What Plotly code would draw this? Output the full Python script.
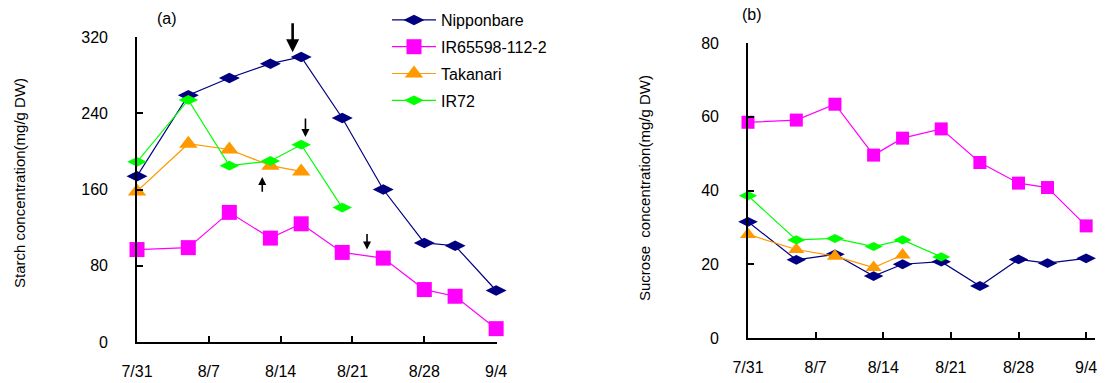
import plotly.graph_objects as go

# ---------------- data ----------------
dates = ["2000-07-31", "2000-08-05", "2000-08-09", "2000-08-13", "2000-08-16",
         "2000-08-20", "2000-08-24", "2000-08-28", "2000-08-31", "2000-09-04"]

series_names = ["Nipponbare", "IR65598-112-2", "Takanari", "IR72"]

starch_nipponbare = [174, 259, 277, 292, 299, 235, 160, 104, 101, 54]
starch_ir65598 = [97, 99, 136, 109, 124, 94, 88, 55, 48, 14]
starch_takanari = [158, 208, 202, 185, 179]
starch_ir72 = [189, 254, 185, 190, 207, 141]

sucrose_nipponbare = [31.5, 21.2, 22.7, 16.8, 20.0, 20.7, 14.1, 21.3, 20.3, 21.6]
sucrose_ir65598 = [58.5, 59.1, 63.4, 49.6, 54.2, 56.7, 47.6, 42.0, 40.8, 30.4]
sucrose_takanari = [28.1, 24.0, 22.2, 19.1, 22.5]
sucrose_ir72 = [38.6, 26.6, 27.0, 24.8, 26.6, 22.0]

tick_dates = ["2000-07-31", "2000-08-07", "2000-08-14", "2000-08-21", "2000-08-28", "2000-09-04"]
tick_labels = ["7/31", "8/7", "8/14", "8/21", "8/28", "9/4"]

starch_ticks = [0, 80, 160, 240, 320]
sucrose_ticks = [0, 20, 40, 60, 80]

# arrows in panel (a): date, head value, tail value, width
arrow_dates = ["2000-08-15 04:00", "2000-08-16 10:00", "2000-08-12 05:00", "2000-08-22 10:00"]
arrow_head = [304, 215, 173, 97]
arrow_tail = [336, 236, 156, 115]
arrow_width = [2.6, 1.6, 1.6, 1.6]

# ---------------- styles ----------------
colors = ["#000080", "#FF00FF", "#FF9900", "#00FF00"]
symbols = ["diamond-wide", "square", "triangle-up", "diamond-wide"]
sizes_a = [15, 15, 16, 14]
sizes_b = [14, 13, 14, 13]

FONT = "Liberation Sans, Arial, sans-serif"

fig = go.Figure()

starch = [starch_nipponbare, starch_ir65598, starch_takanari, starch_ir72]
sucrose = [sucrose_nipponbare, sucrose_ir65598, sucrose_takanari, sucrose_ir72]

for i, name in enumerate(series_names):
    fig.add_trace(go.Scatter(
        x=dates[:len(starch[i])], y=starch[i], name=name, mode="lines+markers",
        line=dict(color=colors[i], width=1.2),
        marker=dict(symbol=symbols[i], size=sizes_a[i], color=colors[i]),
        xaxis="x", yaxis="y", cliponaxis=False, legendgroup=name, showlegend=True,
    ))
for i, name in enumerate(series_names):
    fig.add_trace(go.Scatter(
        x=dates[:len(sucrose[i])], y=sucrose[i], name=name, mode="lines+markers",
        line=dict(color=colors[i], width=1.2),
        marker=dict(symbol=symbols[i], size=sizes_b[i], color=colors[i]),
        xaxis="x2", yaxis="y2", cliponaxis=False, legendgroup=name, showlegend=False,
    ))

axis_common = dict(showgrid=False, zeroline=False, showline=True, linecolor="black",
                   linewidth=1.6, ticks="inside", ticklen=6, tickcolor="black", tickwidth=1.6,
                   automargin=False,
                   tickfont=dict(family=FONT, size=16, color="black"))

fig.update_layout(
    width=1107, height=383,
    margin=dict(l=0, r=0, t=0, b=0, autoexpand=False),
    paper_bgcolor="white", plot_bgcolor="white",
    font=dict(family=FONT, color="black"),
    xaxis=dict(domain=[137 / 1107, 497 / 1107], type="date",
               range=["2000-07-31", "2000-09-04 02:00"],
               tickvals=tick_dates, ticktext=tick_labels, ticklabelstandoff=14,
               anchor="y", **axis_common),
    yaxis=dict(domain=[41 / 383, 346 / 383], range=[0, 320], tickvals=starch_ticks,
               ticklabelstandoff=24, anchor="x", **axis_common),
    xaxis2=dict(domain=[748 / 1107, 1095 / 1107], type="date",
                range=["2000-07-31", "2000-09-04 22:00"],
                tickvals=tick_dates, ticktext=tick_labels, ticklabelstandoff=14,
                anchor="y2", **axis_common),
    yaxis2=dict(domain=[45 / 383, 340 / 383], range=[0, 80], tickvals=sucrose_ticks,
                ticklabelstandoff=24, anchor="x2", **axis_common),
    legend=dict(x=387 / 1107, y=1 - 3 / 383, xanchor="left", yanchor="top",
                font=dict(family=FONT, size=16, color="black"),
                tracegroupgap=3, itemwidth=44, bgcolor="rgba(0,0,0,0)"),
    showlegend=True,
)

annotations = [
    dict(text="Starch concentration(mg/g DW)", x=19 / 1107, y=1 - 183 / 383, xref="paper",
         yref="paper", xanchor="center", yanchor="middle", textangle=-90, showarrow=False,
         font=dict(size=15, family=FONT)),
    dict(text="Sucrose  concentration(mg/g DW)", x=644 / 1107, y=1 - 188 / 383, xref="paper",
         yref="paper", xanchor="center", yanchor="middle", textangle=-90, showarrow=False,
         font=dict(size=15, family=FONT)),
    dict(text="(a)", x=167 / 1107, y=1 - 18 / 383, xref="paper", yref="paper",
         xanchor="center", yanchor="middle", showarrow=False, font=dict(size=16, family=FONT)),
    dict(text="(b)", x=752 / 1107, y=1 - 15 / 383, xref="paper", yref="paper",
         xanchor="center", yanchor="middle", showarrow=False, font=dict(size=16, family=FONT)),
]
for d, h, t, w in zip(arrow_dates, arrow_head, arrow_tail, arrow_width):
    annotations.append(dict(x=d, y=h, ax=d, ay=t, xref="x", yref="y", axref="x", ayref="y",
                            showarrow=True, arrowhead=2, arrowsize=1, arrowwidth=w,
                            arrowcolor="black", text=""))
fig.update_layout(annotations=annotations)

fig.write_html("out.html")
